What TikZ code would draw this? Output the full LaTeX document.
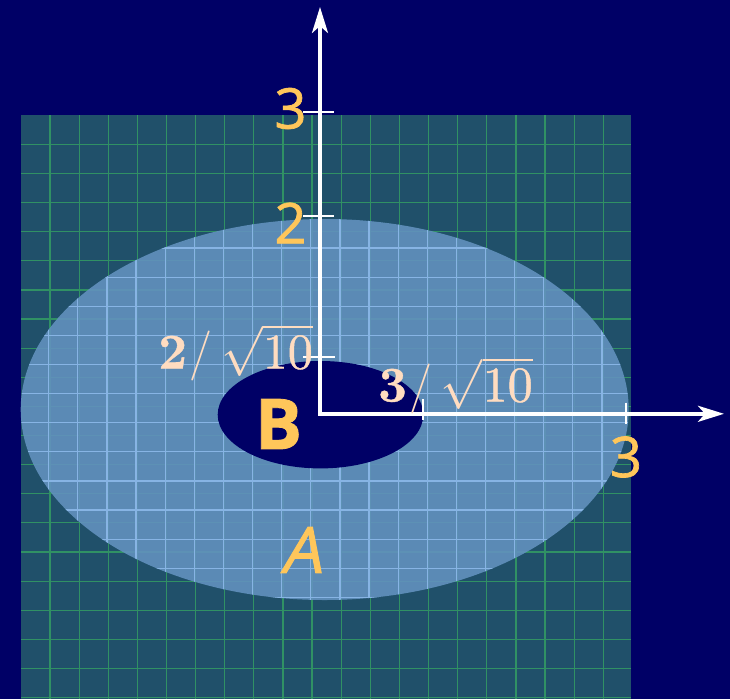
\RequirePackage{fix-cm}
\documentclass[tikz,border=0pt]{standalone}
\usepackage{fontspec}
\newfontfamily\lab[FakeBold=1.2]{Open Sans}
\newfontfamily\labsl[FakeSlant=0.2,FakeBold=1.5]{Open Sans}
\newfontfamily\cmfb[Extension=.otf, UprightFont=*-regular, BoldFont=*-bold, FakeBold=0.8]{lmroman10}
\usetikzlibrary{arrows.meta}
\definecolor{navy}{RGB}{0,0,102}
\definecolor{tealsq}{RGB}{32,80,106}
\definecolor{gridgreen}{RGB}{48,145,100}
\definecolor{ellfill}{RGB}{98,145,190}
\definecolor{lightline}{RGB}{135,180,228}
\definecolor{labyellow}{RGB}{255,198,90}
\definecolor{peach}{RGB}{255,220,192}
\tikzset{
  axisline/.style={white, line width=3.5pt, -{Stealth[length=26pt,width=16pt,inset=7pt]}},
  tickline/.style={white, line width=2pt},
  greengrid/.style={gridgreen, line width=1.2pt},
  lightgrid/.style={lightline, line width=1.2pt},
  numlab/.style={labyellow, inner sep=0pt, font=\lab\fontsize{56}{60}\selectfont},
  mathlab/.style={peach, inner sep=0pt, font=\fontsize{50}{60}\selectfont},
}
\begin{document}
\begin{tikzpicture}[x=1pt,y=-1pt]
\useasboundingbox (0,0) rectangle (730,699);
\fill[navy] (0,0) rectangle (730,699);
% square with grid
\fill[tealsq] (21,115) rectangle (631,699);
\foreach \k in {0,...,19} {
  \draw[greengrid] ({50+29.12*\k},115) -- ({50+29.12*\k},699);
  \draw[greengrid] (21,{144.3+29.12*\k}) -- (631,{144.3+29.12*\k});
}
% outer ellipse A
\fill[ellfill, fill opacity=0.9] (324.7,409.5) ellipse [x radius=304, y radius=190.5];
\begin{scope}
  \clip (324.7,409.5) ellipse [x radius=304, y radius=190.5];
  \foreach \k in {0,...,20} {
    \draw[lightgrid] ({48.7+29.12*\k},200) -- ({48.7+29.12*\k},620);
  }
  \foreach \k in {-7,...,6} {
    \draw[lightgrid] (0,{422.7+29.12*\k}) -- (730,{422.7+29.12*\k});
  }
\end{scope}
% inner ellipse B
\fill[navy] (320.5,414.7) ellipse [x radius=102.8, y radius=53.7];
% axes
\coordinate (O) at (320,413.8);
\coordinate (ytip) at (320,7);
\coordinate (xtip) at (724,413.8);
\draw[axisline] ([yshift=-1.75pt]O) -- (ytip);
\draw[axisline] ([xshift=-1.75pt]O) -- (xtip);
% ticks
\coordinate (y3a) at (303,111.7); \coordinate (y3b) at (334,111.7);
\coordinate (y2a) at (303,216); \coordinate (y2b) at (334,216);
\coordinate (yra) at (303,357.3); \coordinate (yrb) at (335,357.3);
\coordinate (x3a) at (625.7,402.7); \coordinate (x3b) at (625.7,424.3);
\coordinate (xra) at (422.7,399); \coordinate (xrb) at (422.7,420);
\draw[tickline] (y3a) -- (y3b);
\draw[tickline] (y2a) -- (y2b);
\draw[tickline] (yra) -- (yrb);
\draw[tickline] (x3a) -- (x3b);
\draw[tickline] (xra) -- (xrb);
% labels
\node[numlab] (ly3) at (290.5,108.5) {3};
\node[numlab] (ly2) at (290.5,223) {2};
\node[numlab] (lx3) at (626,457) {3};
\node[labyellow, inner sep=0pt, font=\labsl\fontsize{64}{70}\selectfont] (lA) at (301,550) {A};
\node[labyellow, inner sep=0pt, font=\lab\bfseries\fontsize{70}{75}\selectfont] (lB) at (278.5,424) {B};
\node[mathlab, anchor=base east] (lyr) at (313,368.5) {$\hbox{\cmfb\bfseries 2}\mkern1mu/\mkern3mu\sqrt{\hbox{\cmfb 10}}$};
\node[mathlab, anchor=base west] (lxr) at (378,401.5) {$\hbox{\cmfb\bfseries 3}\mkern1mu/\mkern3mu\sqrt{\hbox{\cmfb 10}}$};
\end{tikzpicture}
\end{document}
